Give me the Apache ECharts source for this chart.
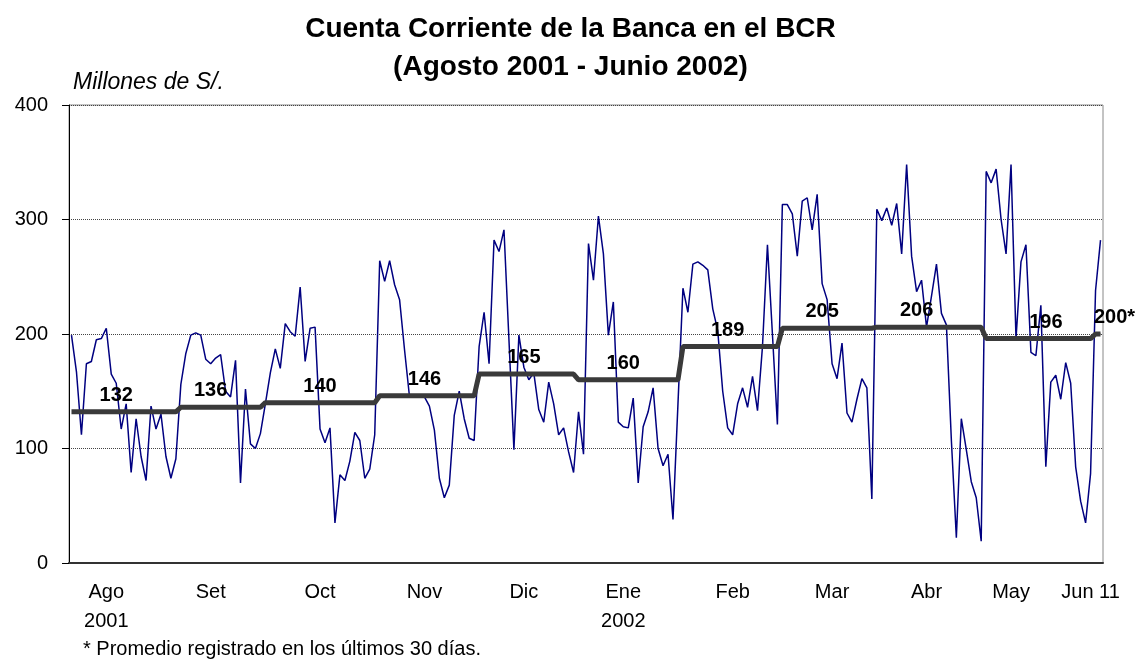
<!DOCTYPE html>
<html>
<head>
<meta charset="utf-8">
<script src="https://cdn.jsdelivr.net/npm/echarts@6.0.0/dist/echarts.min.js"></script>
<style>
  html, body { margin: 0; padding: 0; background: #fff; }
  #chart { width: 1141px; height: 660px; }
</style>
</head>
<body>
<div id="chart"></div>
<script>
// saldos diarios (millones de S/.), un arreglo por mes
const ago = [199,167,112,174,176,195,196,205,165,157,117,139,79,126,93,72,137,117,130,93,74,91]
const set = [156,183,199,201,199,178,174,179,182,150,145,177,70,152,104,100,113]
const oct = [139,166,187,170,209,202,198,241,176,205,206,117,105,118,35,77,72,89,114,107,74,82,112]
const nov = [264,246,264,243,230,186,145,145,145,145,137,116,74,57,68,129,150,126,109,107]
const dic = [189,219,174,282,272,291,195,99,199,171,160,166,134,123,158,139,112,118,97,79]
const ene = [132,95,279,247,303,270,199,228,123,119,118,144,70,119,132,153,100,85,95,38,139]
const feb = [240,219,261,263,260,256,222,203,150,118,112,139,153,136,163,133,189,278,200,121]
const mar = [313,313,305,268,316,319,291,322,244,230,174,161,192,131,123,143,161,153,56]
const abr = [309,299,310,295,314,270,348,268,237,247,206,233,261,218,208,107,22,126,99,71,57,19]
const may = [342,332,344,300,270,348,196,263,278,184,181,225,84,158,164,143,175,157,84,54,35,78]
const jun = [238,282]

// promedio mensual
const promedios = [132,136,140,146,165,160,189,205,206,196,200]
const promedioTxt = ['132','136','140','146','165','160','189','205','206','196','200*']

// etiquetas del eje x
const mesesTxt = ['Ago\n2001','Set','Oct','Nov','Dic','Ene\n2002','Feb','Mar','Abr','May','Jun 11']

// ---- layout (indices de la categoria donde va cada texto)
const mesesAt = [7,28,50,71,91,111,133,153,172,189,205]
const promAt = [9,28,50,71,91,111,132,151,170,196,207]

const porMes = [ago,set,oct,nov,dic,ene,feb,mar,abr,may,jun]
let diario = []
let escalon = []
porMes.forEach(function(m, i){
    m.forEach(function(v){
        diario.push(v)
        escalon.push(promedios[i])
    })
})
const cats = diario.map(function(v, i){ return i })

// solo los puntos con texto llevan simbolo (si no, la etiqueta no sale)
const escalonData = escalon.map(function(v, i){
    const k = promAt.indexOf(i)
    if(k < 0) return v
    return {
        value: v,
        symbol: 'circle',
        symbolSize: 1,
        label: {
            show: true,
            formatter: promedioTxt[k],
            offset: k === promAt.length - 1 ? [14, 0] : [0, 0]
        }
    }
})

const fuente = 'Liberation Sans, Arial, sans-serif'
const chart = echarts.init(document.getElementById('chart'))
chart.setOption({
    animation: false,
    textStyle: { fontFamily: fuente },
    title: [
        {
            text: 'Cuenta Corriente de la Banca en el BCR\n(Agosto 2001 - Junio 2002)',
            left: 'center',
            top: 5,
            textStyle: { fontSize: 28, fontWeight: 'bold', color: '#000', lineHeight: 38, fontFamily: fuente }
        },
        {
            text: 'Millones de S/.',
            left: 68,
            top: 66,
            textStyle: { fontSize: 23, fontStyle: 'italic', fontWeight: 'normal', color: '#000', lineHeight: 24, fontFamily: fuente }
        },
        {
            text: '* Promedio registrado en los últimos 30 días.',
            left: 78,
            top: 633,
            textStyle: { fontSize: 20, fontWeight: 'normal', color: '#000', lineHeight: 22, fontFamily: fuente }
        }
    ],
    grid: {
        left: 69, right: 38, top: 105, bottom: 97,
        show: true, borderColor: '#888', borderWidth: 1
    },
    xAxis: {
        type: 'category',
        data: cats,
        boundaryGap: true,
        axisLine: { lineStyle: { color: '#333', width: 2 } },
        axisTick: { show: false },
        axisLabel: {
            interval: function(i){ return mesesAt.indexOf(i) >= 0 },
            formatter: function(v, i){
                const k = mesesAt.indexOf(i)
                return k >= 0 ? mesesTxt[k] : ''
            },
            color: '#000',
            fontSize: 20,
            lineHeight: 29,
            margin: 15
        },
        splitLine: { show: false }
    },
    yAxis: {
        type: 'value',
        min: 0, max: 400, interval: 100,
        axisLine: { show: true, lineStyle: { color: '#000', width: 1 } },
        axisTick: { show: true, length: 7, lineStyle: { color: '#000' } },
        axisLabel: { color: '#000', fontSize: 20, margin: 21 },
        splitLine: { lineStyle: { color: '#444', type: 'dotted', width: 1 } }
    },
    series: [
        {
            name: 'diario',
            type: 'line',
            data: diario,
            symbol: 'none',
            lineStyle: { color: '#000080', width: 1.5 },
            z: 2
        },
        {
            name: 'promedio',
            type: 'line',
            data: escalonData,
            symbol: 'none',
            showSymbol: true,
            showAllSymbol: true,
            itemStyle: { color: '#3a3a3a' },
            lineStyle: { color: '#3a3a3a', width: 5 },
            label: {
                show: false,
                position: 'top',
                distance: 6,
                color: '#000',
                fontSize: 20,
                fontWeight: 'bold',
                fontFamily: fuente
            },
            z: 3
        }
    ]
})
</script>
</body>
</html>
